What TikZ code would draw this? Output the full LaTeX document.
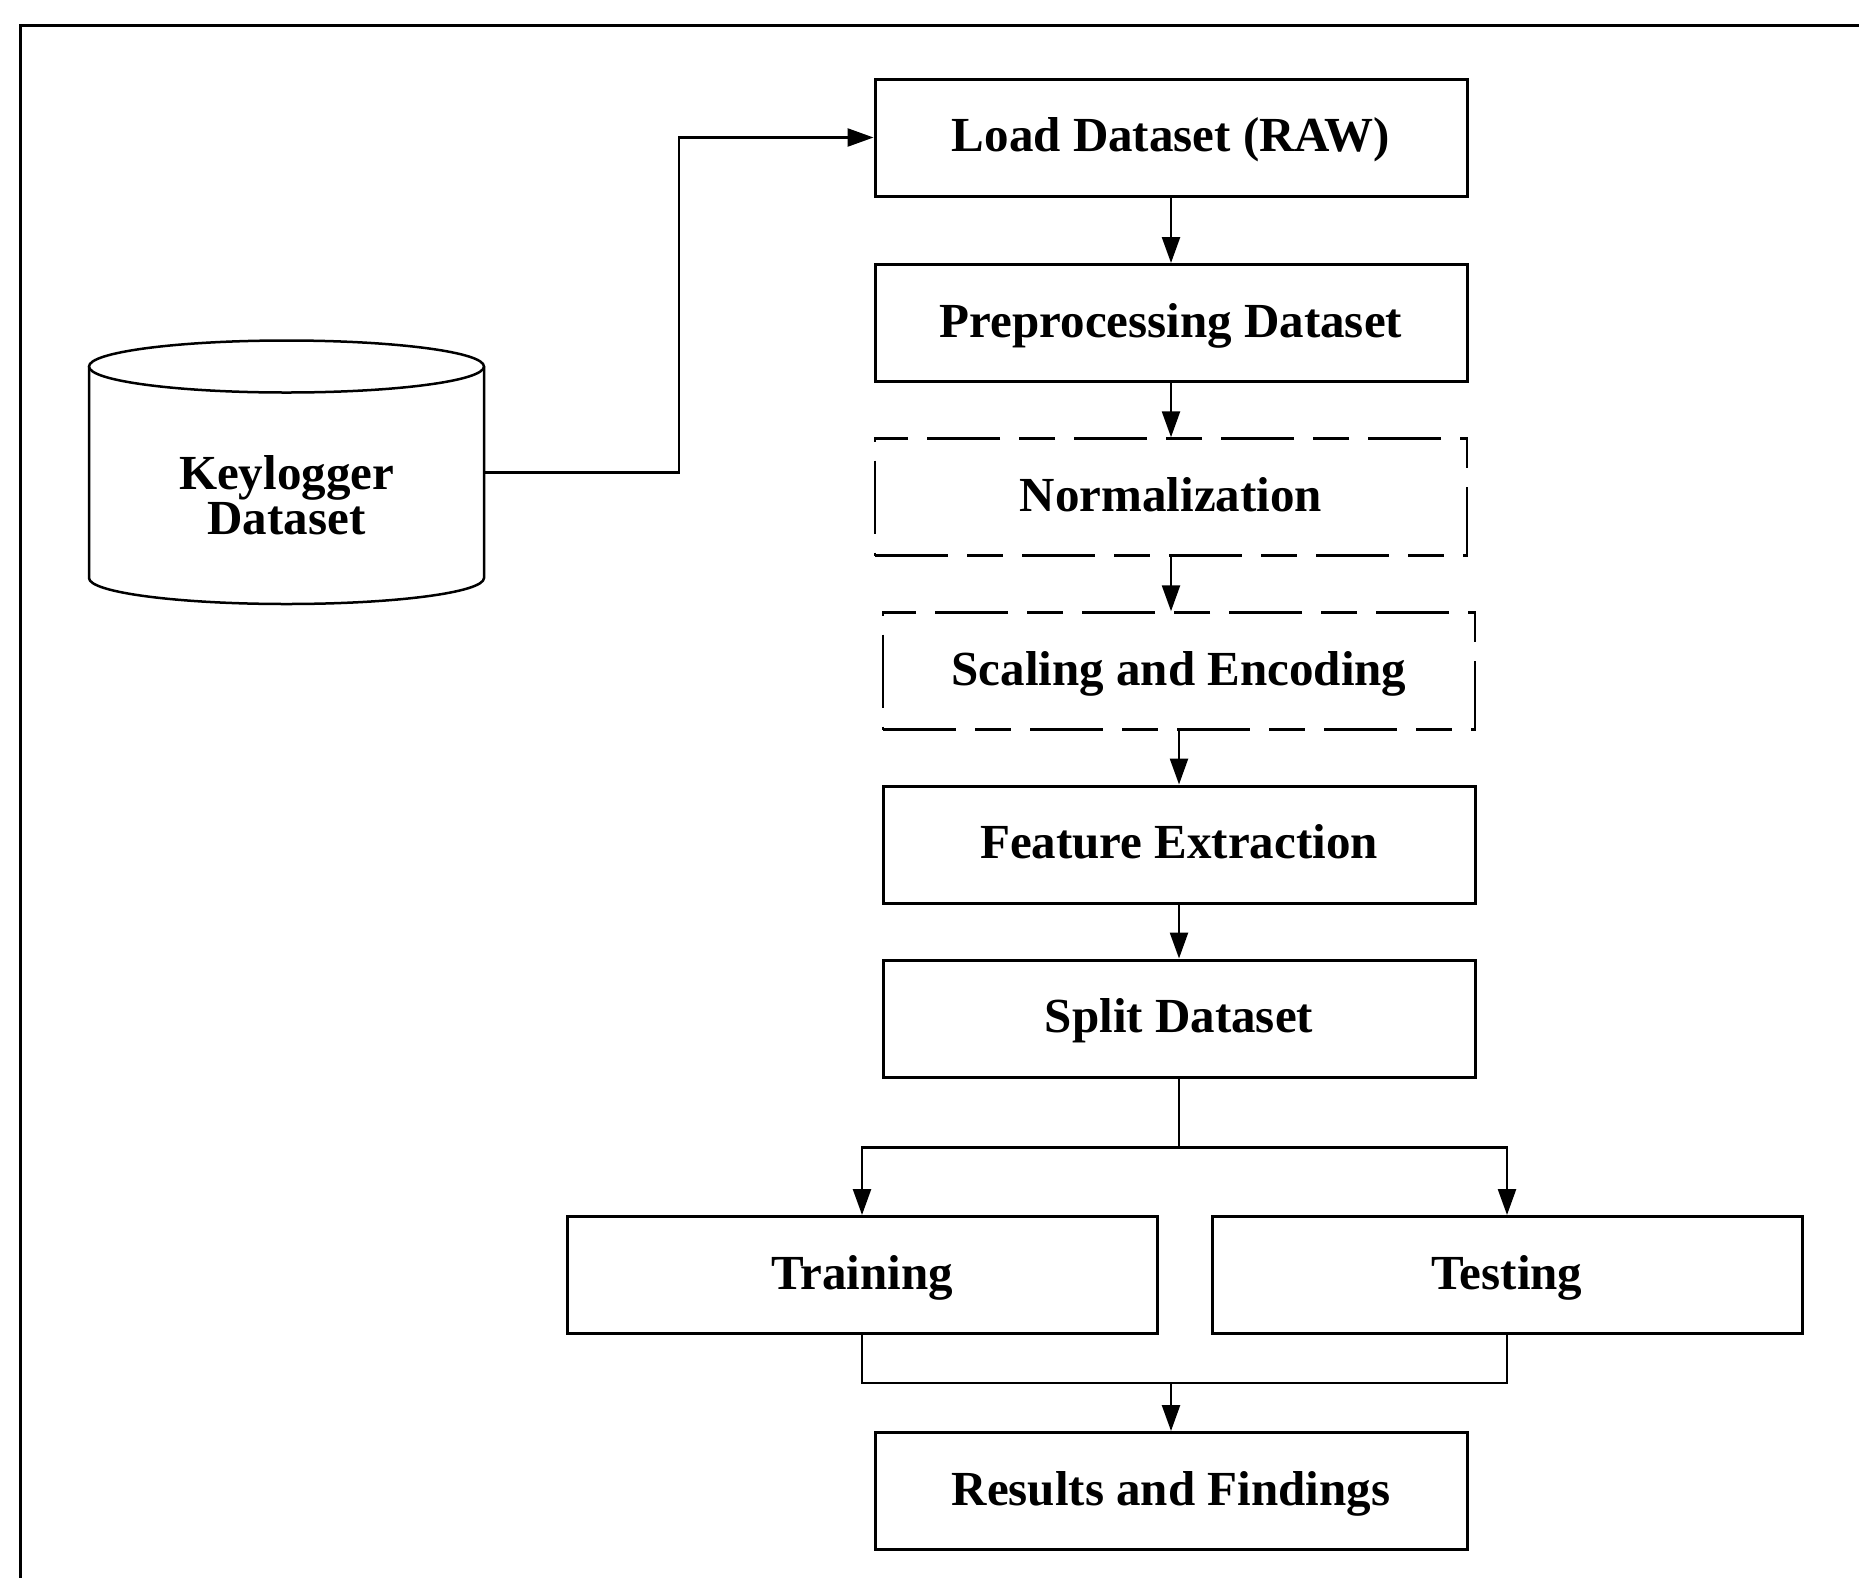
\documentclass[tikz,border=0pt]{standalone}
\usepackage{fontspec}
\setmainfont{Liberation Serif}
\usetikzlibrary{arrows.meta,calc}
\tikzset{
  stepbox/.style={draw=black, line width=3pt, fill=white, minimum width=592pt, minimum height=117pt, inner sep=0pt, text depth=6pt, font=\bfseries\fontsize{49}{45}\selectfont},
  dashbox/.style={stepbox, line width=2.5pt, dash pattern=on 73pt off 19pt on 36pt off 19pt},
  conn/.style={draw=black, line width=2.5pt},
  arr/.style={conn, -{Triangle[length=26pt,width=18pt]}},
  lbl/.style={font=\bfseries\fontsize{49}{45}\selectfont, align=center, inner sep=0pt}
}
\begin{document}
\begin{tikzpicture}[x=1pt,y=-1pt]
\useasboundingbox[fill=white] (0,0) rectangle (1859,1577);
% frame (right and bottom sides lie outside the picture)
\draw[line width=3pt] (20,1600) -- (20,25) -- (1880,25);

% cylinder
\node[minimum width=395pt, minimum height=263pt, inner sep=0pt] (kd) at (286.5,472.5) {};
\draw[line width=2.5pt, fill=white]
  (89,366.5) -- (89,578) arc[start angle=180, end angle=360, x radius=197.5, y radius=-26] -- (484,366.5);
\draw[line width=2.5pt, fill=white] (286.5,366.5) ellipse[x radius=197.5, y radius=26];
\node[lbl] (kdt) at (286.5,495) {Keylogger\\Dataset};

% process boxes
\node[stepbox] (load)  at (1171,137.5) {Load Dataset (RAW)};
\node[stepbox] (pre)   at (1171,323)   {Preprocessing Dataset};
\node[dashbox] (norm)  at (1171,497)   {Normalization};
\node[dashbox] (scal)  at (1179,671)   {Scaling and Encoding};
\node[stepbox] (feat)  at (1179,844.5) {Feature Extraction};
\node[stepbox] (split) at (1179,1018.5){Split Dataset};
\node[stepbox, minimum width=590pt] (train) at (862,1275) {Training};
\node[stepbox, minimum width=590pt] (test)  at (1507,1275) {Testing};
\node[stepbox] (res)   at (1171,1491)  {Results and Findings};

% connectors
\draw[arr] (kd.east) -- ++(195,0) |- (load.west);
\draw[arr] (load.south) -- (pre.north);
\draw[arr] (pre.south) -- (norm.north);
\draw[arr] (norm.south) -- (norm.south |- scal.north);
\draw[arr] (scal.south) -- (feat.north);
\draw[arr] (feat.south) -- (split.north);
\draw[conn] (split.south) -- ++(0,69) coordinate (br);
\draw[arr] (br) -| (train.north);
\draw[arr] (br) -| (test.north);
\draw[conn] (train.south) -- ++(0,48) coordinate (mrg) -| (test.south);
\draw[arr] (res.north |- mrg) -- (res.north);
\end{tikzpicture}
\end{document}
